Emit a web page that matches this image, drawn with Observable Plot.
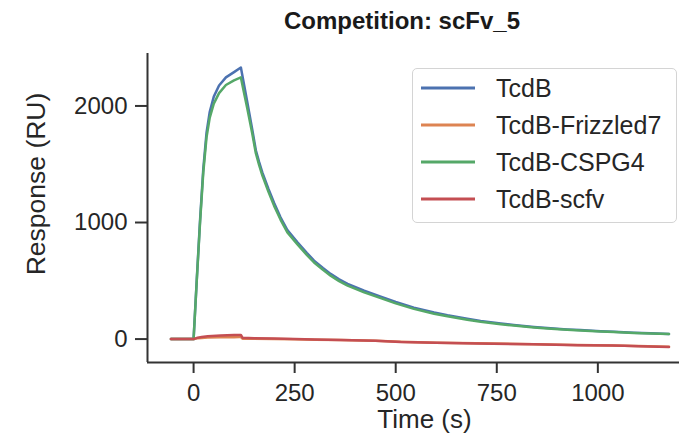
<!DOCTYPE html>
<html>
<head>
<meta charset="utf-8">
<script src="https://cdn.jsdelivr.net/npm/d3@7"></script>
<script src="https://cdn.jsdelivr.net/npm/@observablehq/plot@0.6"></script>
<style>
  html, body { margin: 0; padding: 0; background: #fff; }
  #wrap { position: relative; width: 679px; height: 436px; overflow: hidden; font-family: "Liberation Sans", Arial, sans-serif; color: #262626; }
  #title { position: absolute; left: 402px; top: 7px; transform: translateX(-50%); font-weight: bold; font-size: 24px; white-space: nowrap; color: #1a1a1a; }
  #legend { position: absolute; left: 412px; top: 68px; width: 265px; height: 155px; border: 1px solid #d4d4d4; border-radius: 5px; background: rgba(255,255,255,0.85); box-sizing: border-box; }
  .row { position: absolute; left: 0; height: 30px; display: flex; align-items: center; font-size: 25px; white-space: nowrap; }
  .row svg { margin-left: 8px; margin-right: 21px; }
</style>
</head>
<body>
<div id="wrap">
  <div id="chart"></div>
  <div id="title"></div>
  <div id="legend"></div>
</div>
<script>
// ---- data ----
const titleText = "Competition: scFv_5";
const xLabel = "Time (s)";
const yLabel = "Response (RU)";
const seriesNames = ["TcdB", "TcdB-Frizzled7", "TcdB-CSPG4", "TcdB-scfv"];
const seriesColors = ["#4C72B0", "#DD8452", "#55A868", "#C44E52"];
const xTicks = [0, 250, 500, 750, 1000];
const yTicks = [0, 1000, 2000];
const xDomain = [-114, 1202];
const yDomain = [-201, 2450];

const bindTime = [-56, 0, 8, 16, 24, 32, 40, 50, 63, 80, 100, 117, 125, 133, 145, 154, 162, 170, 185, 199, 215, 232, 257, 280, 298, 320, 339, 360, 381, 422, 463, 500, 545, 595, 628, 677, 710, 760, 792, 842, 875, 924, 957, 1007, 1040, 1089, 1130, 1176];
const tcdbResp = [0, 0, 520, 1020, 1460, 1770, 1950, 2080, 2175, 2245, 2290, 2330, 2180, 2030, 1800, 1620, 1520, 1430, 1290, 1170, 1045, 935, 831, 740, 673, 610, 559, 512, 473, 415, 364, 318, 270, 228, 204, 174, 156, 134, 121, 104, 95, 83, 77, 68, 63, 55, 49, 44];
const cspg4Resp = [0, 0, 510, 1000, 1430, 1730, 1900, 2020, 2110, 2180, 2220, 2245, 2110, 1975, 1765, 1595, 1495, 1405, 1265, 1145, 1025, 915, 812, 722, 657, 594, 544, 497, 459, 401, 351, 306, 259, 218, 195, 166, 149, 128, 116, 100, 91, 80, 74, 66, 61, 53, 48, 43];

const lowTime = [-56, 0, 10, 20, 35, 67, 100, 113, 117, 121, 150, 199, 250, 300, 364, 450, 512, 600, 700, 842, 950, 1036, 1065, 1100, 1176];
const frizzledResp = [0, 0, 6, 10, 13, 15, 16, 17, 17, 3, 2, 0, -2, -5, -9, -15, -24, -31, -36, -44, -51, -55, -57, -60, -66];
const scfvResp = [0, 0, 12, 18, 24, 31, 34, 36, 35, 12, 8, 5, 0, -4, -8, -15, -25, -32, -37, -45, -52, -56, -58, -61, -68];

// ---- build table ----
const data = [];
function addSeries(name, times, vals) {
  times.forEach((t, i) => data.push({series: name, t, v: vals[i]}));
}
addSeries(seriesNames[0], bindTime, tcdbResp);
addSeries(seriesNames[1], lowTime, frizzledResp);
addSeries(seriesNames[2], bindTime, cspg4Resp);
addSeries(seriesNames[3], lowTime, scfvResp);

const fontFamily = '"Liberation Sans", Arial, sans-serif';

const chart = Plot.plot({
  width: 679,
  height: 436,
  marginLeft: 147,
  marginRight: 0,
  marginTop: 53,
  marginBottom: 74,
  style: {fontFamily, fontSize: "24px", color: "#262626", background: "transparent", overflow: "visible"},
  x: {domain: xDomain},
  y: {domain: yDomain},
  color: {domain: seriesNames, range: seriesColors},
  marks: [
    Plot.axisX({ticks: xTicks, tickFormat: d3.format("d"), tickSize: 11, tickPadding: 10, strokeWidth: 2, stroke: "#333", fontSize: 24, label: null}),
    Plot.axisY({ticks: yTicks, tickFormat: d3.format("d"), tickSize: 12, tickPadding: 8, strokeWidth: 2, stroke: "#333", fontSize: 24, label: null}),
    Plot.ruleX([xDomain[0]], {stroke: "#333", strokeWidth: 2}),
    Plot.ruleY([yDomain[0]], {stroke: "#333", strokeWidth: 2}),
    Plot.line(data, {x: "t", y: "v", z: "series", stroke: "series", strokeWidth: 2.5, strokeLinejoin: "round"}),
    Plot.text([xLabel], {frameAnchor: "bottom", textAnchor: "middle", dx: 11, dy: 57, fontSize: 26, lineAnchor: "middle", fill: "#262626"}),
    Plot.text([yLabel], {frameAnchor: "left", textAnchor: "middle", rotate: -90, dx: -111, dy: -24, fontSize: 26.5, lineAnchor: "middle", fill: "#262626"})
  ]
});
document.getElementById("chart").appendChild(chart);

document.getElementById("title").textContent = titleText;

const legend = document.getElementById("legend");
const rowCenters = [19, 56, 93, 130];
seriesNames.forEach((name, i) => {
  const row = document.createElement("div");
  row.className = "row";
  row.style.top = (rowCenters[i] - 15) + "px";
  row.innerHTML = `<svg width="54" height="6"><line x1="0" x2="54" y1="3" y2="3" stroke="${seriesColors[i]}" stroke-width="3"/></svg><span>${name}</span>`;
  legend.appendChild(row);
});
</script>
</body>
</html>
